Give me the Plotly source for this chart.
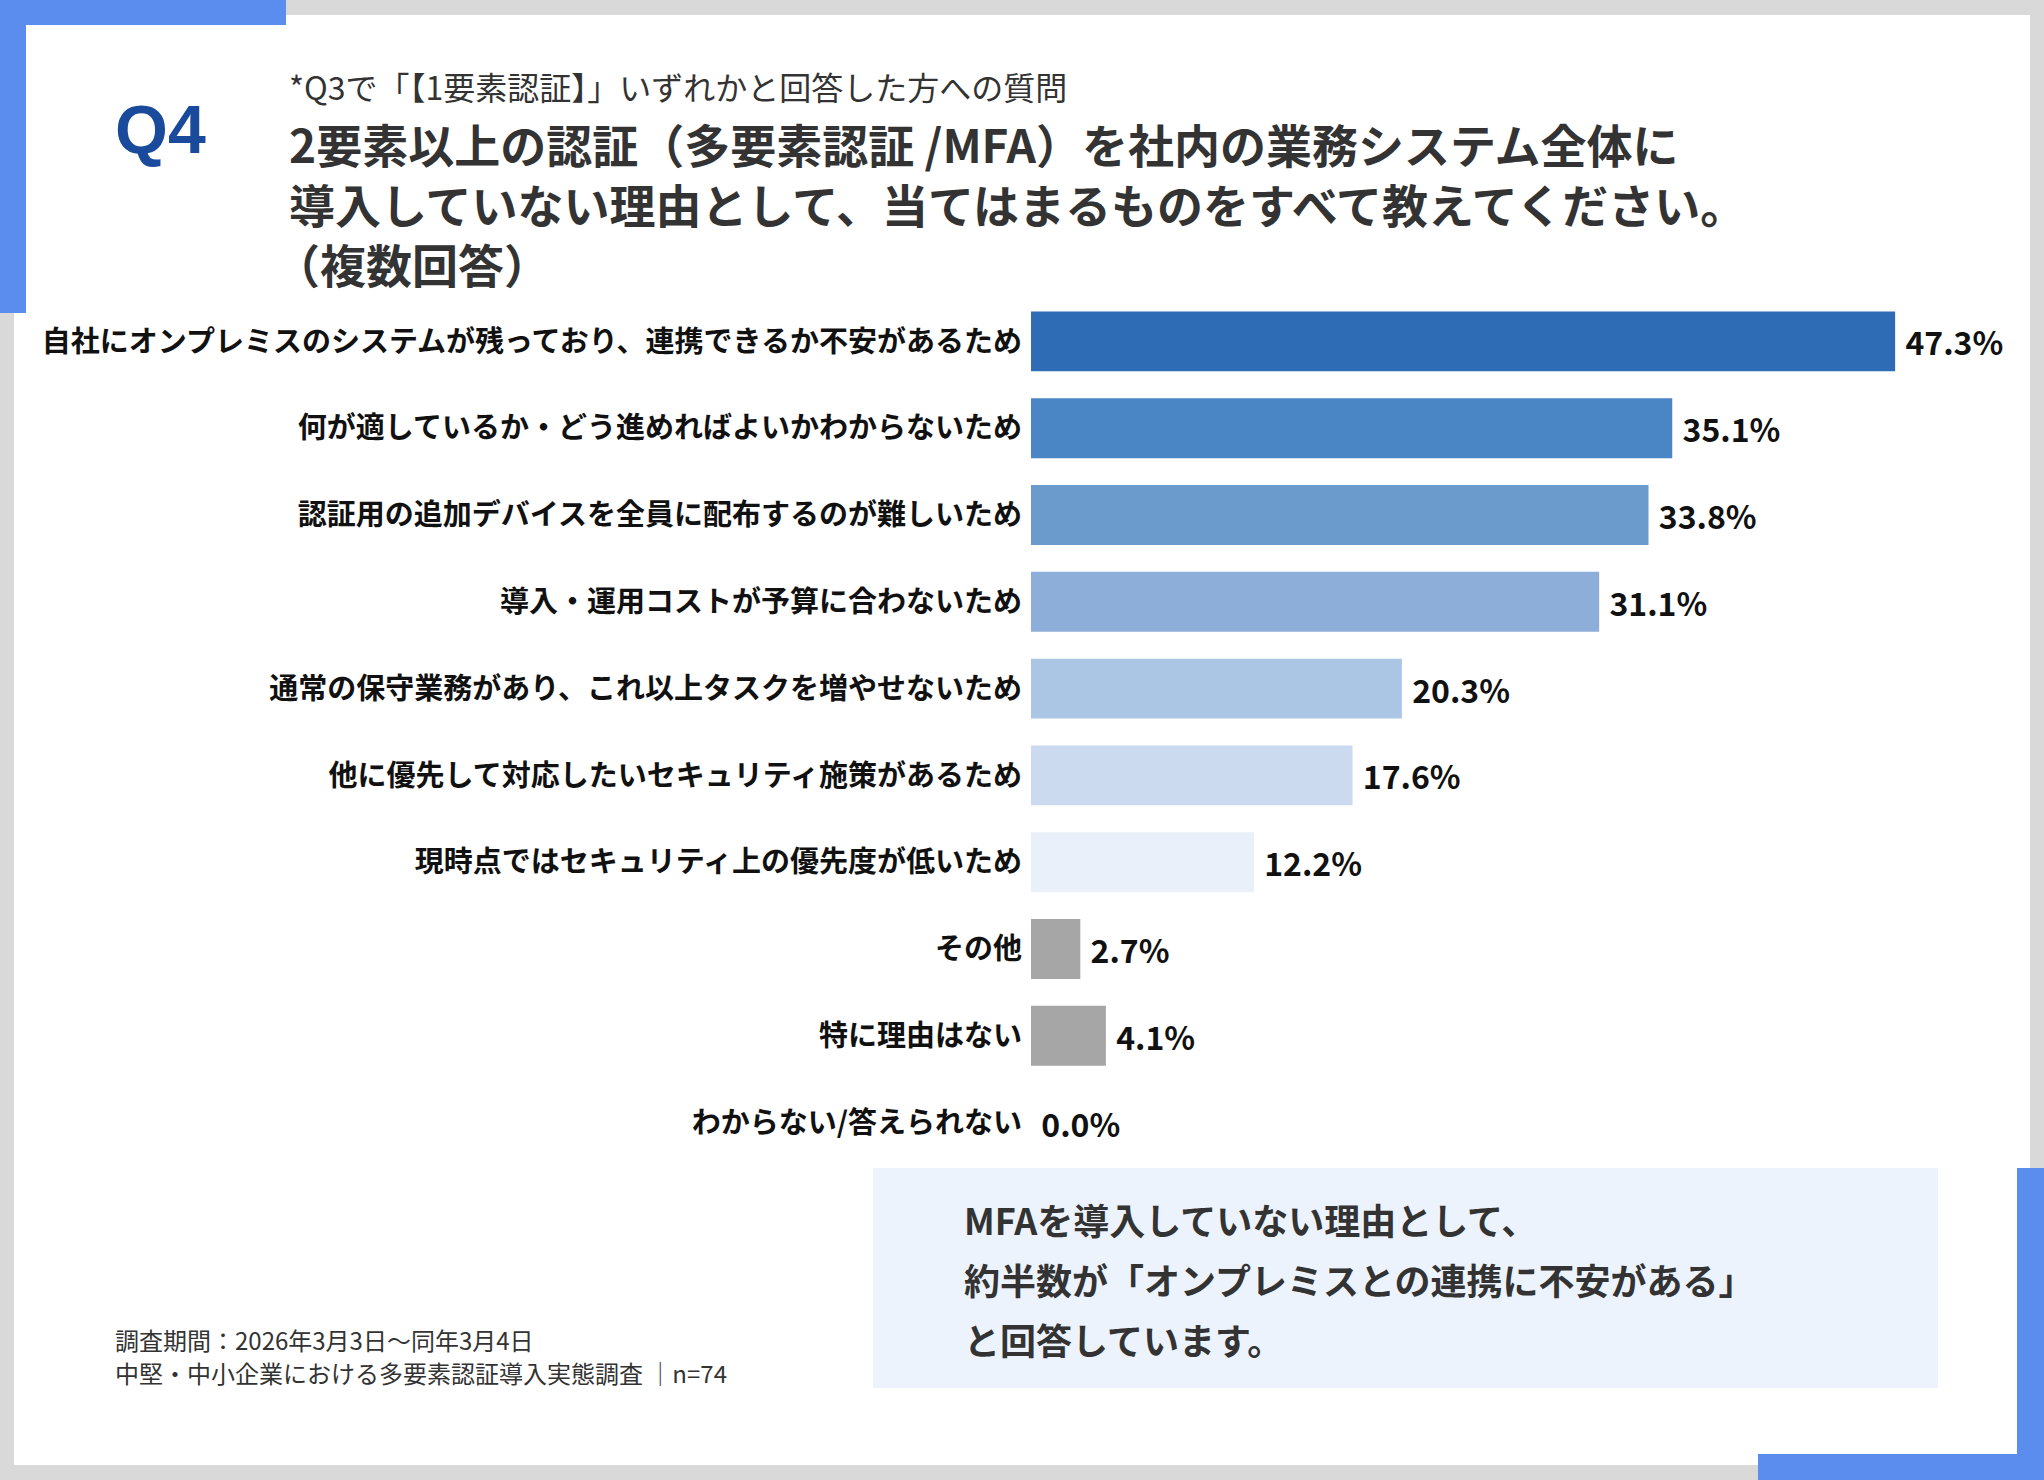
import plotly.graph_objects as go

W, H = 2044, 1480

# ---------------------------------------------
# Data
# ---------------------------------------------
reasons = [
    "自社にオンプレミスのシステムが残っており、連携できるか不安があるため",
    "何が適しているか・どう進めればよいかわからないため",
    "認証用の追加デバイスを全員に配布するのが難しいため",
    "導入・運用コストが予算に合わないため",
    "通常の保守業務があり、これ以上タスクを増やせないため",
    "他に優先して対応したいセキュリティ施策があるため",
    "現時点ではセキュリティ上の優先度が低いため",
    "その他",
    "特に理由はない",
    "わからない/答えられない",
]
shares = [47.3, 35.1, 33.8, 31.1, 20.3, 17.6, 12.2, 2.7, 4.1, 0.0]
bar_colors = [
    "#2e6cb5", "#4a85c5", "#6b9bcd", "#8daed9", "#abc5e5",
    "#cbdaef", "#e9f0f9", "#a6a6a6", "#a6a6a6", "#a6a6a6",
]

question_no = "Q4"
sub_note = "*Q3で「【1要素認証】」いずれかと回答した方への質問"
title_lines = [
    "2要素以上の認証（多要素認証 /MFA）を社内の業務システム全体に",
    "導入していない理由として、当てはまるものをすべて教えてください。",
    "（複数回答）",
]
callout_lines = [
    "MFAを導入していない理由として、",
    "約半数が「オンプレミスとの連携に不安がある」",
    "と回答しています。",
]
footer_lines = [
    "調査期間：2026年3月3日～同年3月4日",
    "中堅・中小企業における多要素認証導入実態調査 │n=74",
]

FONT = "Noto Sans CJK JP, sans-serif"
BLUE = "#5b8def"


def fx(x):
    return x / W


def fy(y):
    return 1 - y / H


def rect(x0, y0, x1, y1, color):
    return dict(type="rect", xref="paper", yref="paper",
                x0=fx(x0), x1=fx(x1), y0=fy(y1), y1=fy(y0),
                fillcolor=color, line=dict(width=0), layer="below")


fig = go.Figure()

fig.add_trace(go.Bar(
    y=reasons,
    x=shares,
    orientation="h",
    marker=dict(color=bar_colors, line=dict(width=0)),
    text=[f" {v:.1f}%" for v in shares],
    textposition="outside",
    textfont=dict(family=FONT, size=32, color="#111111", weight="bold"),
    cliponaxis=False,
    hoverinfo="skip",
))

# frame / decoration
shapes = [
    rect(14, 15, 2030, 1465, "white"),
    rect(0, 0, 286, 25, BLUE),
    rect(0, 0, 26, 313, BLUE),
    rect(2017, 1168, 2044, 1480, BLUE),
    rect(1758, 1454, 2044, 1480, BLUE),
    rect(873, 1168, 1938, 1388, "#edf3fd"),
]

annotations = [
    dict(text=f"<b>{question_no}</b>", x=fx(160), y=fy(129),
         font=dict(family="Liberation Sans, Arial, sans-serif", size=68, color="#1a4a9c"),
         xanchor="center", yanchor="middle"),
    dict(text=sub_note, x=fx(287), y=fy(86),
         font=dict(family=FONT, size=32, color="#333333"),
         xanchor="left", yanchor="middle"),
]
title_x = [287, 287, 272]
for i, line in enumerate(title_lines):
    annotations.append(dict(
        text=f"<b>{line}</b>", x=fx(title_x[i]), y=fy(143 + i * 60),
        font=dict(family=FONT, size=46, color="#333333"),
        xanchor="left", yanchor="middle"))
for i, line in enumerate(callout_lines):
    annotations.append(dict(
        text=f"<b>{line}</b>", x=fx(962), y=fy(1219 + i * 60),
        font=dict(family=FONT, size=36, color="#333333"),
        xanchor="left", yanchor="middle"))
for i, line in enumerate(footer_lines):
    annotations.append(dict(
        text=line, x=fx(113), y=fy(1339 + i * 33),
        font=dict(family=FONT, size=24, color="#333333"),
        xanchor="left", yanchor="middle"))
for a in annotations:
    a.update(xref="paper", yref="paper", showarrow=False)

fig.update_layout(
    width=W, height=H,
    margin=dict(l=0, r=0, t=0, b=0),
    paper_bgcolor="#d9d9d9",
    plot_bgcolor="rgba(0,0,0,0)",
    showlegend=False,
    bargap=0.31,
    shapes=shapes,
    annotations=annotations,
    xaxis=dict(domain=[fx(1031), fx(2000)], range=[0, 53.04],
               visible=False, fixedrange=True),
    yaxis=dict(domain=[fy(1166), fy(298)], autorange="reversed",
               showgrid=False, zeroline=False, showline=False, ticks="",
               ticklabelstandoff=8,
               tickfont=dict(family=FONT, size=29, color="#111111", weight="bold"),
               fixedrange=True),
)

fig.write_html("out.html", config={"displayModeBar": False},
               post_script="document.body.style.margin='0px';")
